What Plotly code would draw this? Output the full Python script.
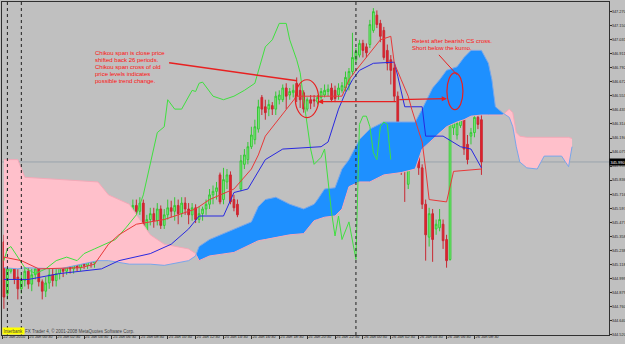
import plotly.graph_objects as go

# ---------------- data (M15 bars, bar index 0 = 25 Jan 00:00) ----------------
bar_index = list(range(-5, 133))
open_ = [345.31,344.87,345.06,345.16,345.01,344.91,344.98,345.06,344.95,345.03,345.08,344.97,344.89,344.96,345.03,344.98,345.04,345.09,345.06,345.11,345.08,345.12,345.09,345.15,345.11,345.16,345.13,
         345.18,345.28,345.35,345.43,345.37,345.46,345.35,345.40,345.49,345.42,345.54,345.62,345.57,345.64,345.40,345.50,345.55,345.49,345.59,345.45,345.54,345.60,345.57,345.62,345.55,345.64,345.59,345.54,345.60,345.50,
         345.55,345.59,345.63,345.71,345.74,345.88,345.67,345.82,345.88,345.67,345.63,345.76,345.97,346.01,346.12,346.18,346.27,346.54,346.46,346.44,346.47,346.44,346.52,346.52,346.62,346.56,346.58,346.66,346.60,346.58,
         346.44,346.52,346.52,346.50,346.54,346.56,346.59,346.62,346.60,346.56,346.60,346.62,346.65,346.76,346.86,346.90,347.00,346.97,346.99,347.11,347.24,347.17,347.11,346.94,346.86,346.79,346.55,346.03,346.08,345.80,
         345.97,346.05,346.11,345.94,345.63,345.35,345.55,345.42,345.43,345.46,345.33,345.16,346.28,346.22,346.30,346.35,346.14,346.21,346.24,346.37,346.35]
high = [345.37,345.15,345.25,345.21,345.08,345.03,345.09,345.11,345.08,345.15,345.12,344.99,345.01,345.08,345.08,345.09,345.15,345.15,345.16,345.15,345.18,345.17,345.20,345.20,345.21,345.21,345.25,
        345.33,345.40,345.50,345.49,345.52,345.50,345.45,345.54,345.55,345.60,345.67,345.67,345.69,345.67,345.54,345.60,345.60,345.64,345.62,345.59,345.67,345.66,345.69,345.67,345.69,345.69,345.64,345.64,345.63,345.61,
        345.61,345.67,345.76,345.79,345.82,345.90,345.94,345.93,345.91,345.71,345.67,346.05,346.10,346.16,346.29,346.35,346.52,346.56,346.52,346.52,346.50,346.59,346.60,346.65,346.66,346.62,346.65,346.71,346.65,346.60,
        346.54,346.56,346.56,346.56,346.62,346.65,346.65,346.66,346.64,346.66,346.67,346.76,346.79,347.09,346.96,347.03,347.03,347.00,347.20,347.30,347.28,347.20,347.14,346.99,346.90,346.84,346.59,346.14,346.18,346.03,
        346.14,346.18,346.18,345.97,345.67,345.60,345.59,345.50,345.59,345.50,345.37,346.44,346.73,346.65,346.52,346.39,346.22,346.28,346.44,346.40,346.39]
low = [344.74,344.82,345.04,344.95,344.82,344.87,344.93,344.91,344.89,344.99,344.93,344.82,344.84,344.91,344.93,344.93,344.99,345.01,345.03,345.04,345.04,345.06,345.06,345.08,345.08,345.09,345.09,
       345.15,345.25,345.29,345.32,345.33,345.30,345.28,345.37,345.37,345.38,345.50,345.52,345.54,345.35,345.37,345.45,345.43,345.45,345.42,345.42,345.50,345.52,345.49,345.46,345.52,345.54,345.46,345.49,345.47,345.47,
       345.49,345.54,345.59,345.63,345.67,345.63,345.63,345.76,345.63,345.57,345.52,345.74,345.93,345.97,346.10,346.14,346.24,346.39,346.35,346.38,346.39,346.39,346.48,346.50,346.44,346.52,346.54,346.50,346.45,346.41,
       346.42,346.44,346.46,346.48,346.50,346.54,346.55,346.50,346.50,346.52,346.58,346.59,346.60,346.73,346.83,346.88,346.88,346.88,346.96,347.09,347.13,347.01,346.86,346.77,346.65,346.50,346.00,345.88,345.65,345.76,
       345.93,346.01,345.88,345.59,345.15,345.27,345.14,345.37,345.40,345.25,345.09,345.15,346.22,346.18,346.28,346.05,345.97,346.14,346.20,346.27,345.88]
close = [344.84,345.08,345.18,344.99,344.91,344.99,345.06,344.95,345.03,345.08,344.97,344.89,344.96,345.03,344.98,345.04,345.09,345.06,345.11,345.08,345.12,345.09,345.15,345.11,345.16,345.13,345.18,
         345.28,345.35,345.43,345.37,345.46,345.35,345.40,345.49,345.42,345.54,345.62,345.57,345.64,345.40,345.50,345.55,345.49,345.59,345.45,345.54,345.60,345.57,345.62,345.55,345.64,345.59,345.54,345.60,345.50,345.55,
         345.59,345.63,345.71,345.74,345.77,345.65,345.84,345.88,345.65,345.60,345.54,346.00,346.05,346.12,346.22,346.29,346.46,346.44,346.41,346.48,346.44,346.55,346.56,346.62,346.55,346.59,346.60,346.55,346.52,346.44,
         346.52,346.49,346.51,346.54,346.59,346.60,346.61,346.52,346.53,346.62,346.64,346.71,346.76,346.88,346.93,347.00,346.94,346.92,347.16,347.27,347.16,347.06,346.88,346.83,346.77,346.55,346.01,345.96,345.97,346.00,
         346.08,346.11,345.94,345.63,345.37,345.55,345.33,345.46,345.50,345.32,345.15,346.31,346.33,346.32,346.37,346.10,346.01,346.24,346.37,346.31,345.99]

tenkan_x = [-5, 0, 5, 17, 21, 25, 28, 33, 41, 50, 54, 61, 66, 68, 70, 76, 79, 92, 94, 96, 99, 103, 106, 107, 109, 111, 112, 115, 116, 117, 122, 123, 124, 132]
tenkan_y = [345.18, 345.15, 345.08, 345.09, 345.12, 345.29, 345.37, 345.46, 345.50, 345.59, 345.67, 345.76, 345.93, 346.05, 346.21, 346.44, 346.55, 346.55, 346.69, 346.77, 346.88, 347.03, 347.06, 346.83, 346.69, 346.55, 346.44, 346.16, 345.93, 345.67, 345.65, 345.78, 345.91, 345.93]

kijun_x = [-5, 2, 11, 23, 28, 37, 43, 48, 51, 58, 61, 65, 70, 75, 86, 88, 91, 93, 95, 97, 101, 107, 108, 110, 115, 116, 121, 126, 129, 132]
kijun_y = [344.99, 344.99, 345.04, 345.08, 345.15, 345.21, 345.29, 345.42, 345.53, 345.53, 345.73, 345.76, 346.01, 346.10, 346.12, 346.16, 346.44, 346.58, 346.69, 346.77, 346.83, 346.84, 346.72, 346.46, 346.46, 346.21, 346.21, 346.12, 346.10, 345.94]

chikou_x = [-5, -4, -3, -1, 1, 4, 7, 10, 13, 16, 18, 21, 24, 27, 30, 33, 35, 37, 39, 41, 42, 44, 46, 49, 50, 51, 52, 55, 58, 61, 64, 67, 69, 70, 72, 74, 76, 77, 79, 80, 81, 82, 83, 84, 86, 87, 89, 90, 91, 92, 94, 96, 97, 98, 99, 100, 101, 102, 103, 104, 105, 106]
chikou_y = [345.15, 345.25, 345.27, 345.18, 345.09, 345.04, 345.08, 345.15, 345.18, 345.15, 345.21, 345.25, 345.29, 345.33, 345.43, 345.54, 345.71, 345.97, 346.24, 346.29, 346.52, 346.44, 346.44, 346.60, 346.59, 346.66, 346.67, 346.55, 346.52, 346.55, 346.60, 346.66, 346.86, 346.97, 347.03, 347.17, 347.17, 347.03, 346.86, 346.75, 346.52, 346.33, 346.10, 345.97, 346.03, 346.10, 345.56, 345.36, 345.53, 345.33, 345.48, 345.16, 346.31, 346.38, 346.38, 346.29, 346.07, 346.01, 346.29, 346.33, 346.31, 346.01]

cloud_x = [-5, -1, 1, 11, 22, 25, 31, 37, 41, 48, 50, 51, 54, 61, 66, 68, 70, 73, 77, 81, 84, 85, 87, 90, 92, 94, 97, 100, 104, 109, 113, 115, 118, 120, 122, 125, 127, 129, 132, 134, 135, 136, 138, 140, 141, 142, 143, 145, 148, 150, 155, 157, 158]
span_a = [345.09, 345.08, 345.09, 345.08, 345.15, 345.15, 345.12, 345.12, 345.11, 345.15, 345.19, 345.27, 345.33, 345.42, 345.48, 345.61, 345.67, 345.69, 345.63, 345.59, 345.63, 345.67, 345.76, 345.77, 345.93, 346.01, 346.18, 346.27, 346.33, 346.33, 346.33, 346.44, 346.62, 346.69, 346.77, 346.80, 346.88, 346.94, 346.94, 346.83, 346.69, 346.46, 346.41, 346.37, 346.29, 346.12, 345.99, 345.94, 345.93, 346.04, 346.04, 345.95, 346.12]
span_b = [346.01, 346.01, 345.86, 345.84, 345.82, 345.71, 345.63, 345.37, 345.29, 345.25, 345.21, 345.15, 345.19, 345.22, 345.29, 345.32, 345.33, 345.35, 345.37, 345.38, 345.49, 345.50, 345.52, 345.53, 345.59, 345.78, 345.82, 345.82, 345.88, 345.90, 345.93, 346.10, 346.18, 346.24, 346.29, 346.33, 346.35, 346.38, 346.39, 346.39, 346.39, 346.39, 346.39, 346.44, 346.41, 346.24, 346.21, 346.20, 346.20, 346.20, 346.20, 346.20, 346.19]

x_tick_labels = ["22 Jan 2010", "25 Jan 00:30", "25 Jan 02:30", "25 Jan 04:30", "25 Jan 06:30", "25 Jan 08:30",
                 "25 Jan 10:30", "25 Jan 12:30", "25 Jan 14:30", "25 Jan 16:30", "25 Jan 18:30", "25 Jan 20:30",
                 "25 Jan 22:30", "26 Jan 00:30", "26 Jan 02:30", "26 Jan 04:30", "26 Jan 06:30", "26 Jan 08:30"]
y_tick_labels = ["347.270", "347.150", "347.031", "346.911", "346.792", "346.672", "346.553", "346.433",
                 "346.314", "346.194", "346.075", "345.955", "345.836", "345.716", "345.597", "345.477",
                 "345.358", "345.238", "345.118", "344.999", "344.879", "344.760", "344.640", "344.520"]
day_separators = [-4, 0, 96]   # first bars of 24 Jan, 25 Jan, 26 Jan

note_chikou = ["Chikou span is close price", "shifted back 26 periods.", "Chikou span cross of old",
               "price levels indicates", "possible trend change."]
note_retest = ["Retest after bearish CS cross.", "Short below the kumo."]
copyright_brand = "Interbank"
copyright_text = "FX Trader 4, © 2001-2008 MetaQuotes Software Corp."

# ---------------- helpers ----------------
def label_to_bar(lbl):
    d, _, hm = lbl.split(" ")
    if ":" not in hm:
        return -5.5
    h, m = hm.split(":")
    return (int(d) - 25) * 96 + int(h) * 4 + int(m) / 15

def cloud_pieces(xs, a, b):
    pieces = []
    cx, ca, cb = [xs[0]], [a[0]], [b[0]]
    sign = a[0] >= b[0]
    for k in range(1, len(xs)):
        s = a[k] >= b[k]
        if s != sign:
            d0 = a[k - 1] - b[k - 1]
            d1 = a[k] - b[k]
            t = d0 / (d0 - d1)
            xc = xs[k - 1] + t * (xs[k] - xs[k - 1])
            yc = a[k - 1] + t * (a[k] - a[k - 1])
            cx.append(xc); ca.append(yc); cb.append(yc)
            pieces.append((cx, ca, cb, sign))
            cx, ca, cb = [xc], [yc], [yc]
            sign = s
        cx.append(xs[k]); ca.append(a[k]); cb.append(b[k])
    pieces.append((cx, ca, cb, sign))
    return pieces

FONT = "Liberation Sans"
BG = "#C0C0C0"
fig = go.Figure()

for cx, ca, cb, bull in cloud_pieces(cloud_x, span_a, span_b):
    fig.add_trace(go.Scatter(x=cx + cx[::-1], y=ca + cb[::-1], fill="toself",
                             fillcolor="#1E90FF" if bull else "#FFC0CB",
                             line=dict(width=0), mode="lines", hoverinfo="skip", showlegend=False))
fig.add_trace(go.Scatter(x=cloud_x, y=span_b, mode="lines", line=dict(color="#F4A9B8", width=1),
                         hoverinfo="skip", showlegend=False))
fig.add_trace(go.Scatter(x=cloud_x, y=span_a, mode="lines", line=dict(color="#78A6EA", width=1),
                         hoverinfo="skip", showlegend=False))

fig.add_trace(go.Candlestick(x=bar_index, open=open_, high=high, low=low, close=close,
                             increasing=dict(line=dict(color="#35C835", width=1), fillcolor="#8AF08A"),
                             decreasing=dict(line=dict(color="#C82832", width=1), fillcolor="#E8202A"),
                             whiskerwidth=0, hoverinfo="skip", showlegend=False))

fig.add_trace(go.Scatter(x=chikou_x, y=chikou_y, mode="lines", line=dict(color="#3FE03F", width=1),
                         hoverinfo="skip", showlegend=False))
fig.add_trace(go.Scatter(x=kijun_x, y=kijun_y, mode="lines", line=dict(color="#2828E0", width=1),
                         hoverinfo="skip", showlegend=False))
fig.add_trace(go.Scatter(x=tenkan_x, y=tenkan_y, mode="lines", line=dict(color="#E83838", width=1),
                         hoverinfo="skip", showlegend=False))

shapes = []
for s in day_separators:
    shapes.append(dict(type="line", xref="x", yref="paper", x0=s, x1=s, y0=0, y1=1,
                       line=dict(color="#202020", width=1, dash="dot"), layer="above"))
shapes.append(dict(type="line", xref="paper", yref="y", x0=0, x1=1, y0=close[-1], y1=close[-1],
                   line=dict(color="#9AA3AD", width=1), layer="below"))
# annotation drawings
shapes.append(dict(type="circle", xref="x", yref="y", x0=78.6, x1=85.3, y0=346.368, y1=346.690,
                   line=dict(color="#E82020", width=1.2)))
shapes.append(dict(type="circle", xref="x", yref="y", x0=122.1, x1=126.7, y0=346.435, y1=346.749,
                   line=dict(color="#E82020", width=1.2)))
shapes.append(dict(type="line", xref="x", yref="y", x0=42.4, y0=346.834, x1=79.1, y1=346.681,
                   line=dict(color="#E82020", width=1.5)))
shapes.append(dict(type="line", xref="x", yref="y", x0=119.8, y0=346.902, x1=125.0, y1=346.732,
                   line=dict(color="#E82020", width=1)))

annotations = []
for k, t in enumerate(note_chikou):
    annotations.append(dict(x=20.6, y=346.922, xref="x", yref="y", text=t, showarrow=False,
                            xanchor="left", yanchor="middle", yshift=-7 * k,
                            font=dict(family=FONT, size=6, color="#FF1010")))
for k, t in enumerate(note_retest):
    annotations.append(dict(x=111.5, y=347.024, xref="x", yref="y", text=t, showarrow=False,
                            xanchor="left", yanchor="middle", yshift=-7 * k,
                            font=dict(family=FONT, size=6, color="#FF1010")))
annotations.append(dict(x=85.1, y=346.503, ax=108.0, ay=346.503, xref="x", yref="y", axref="x", ayref="y",
                        text="", showarrow=True, arrowhead=2, arrowsize=0.8, arrowwidth=1.3, arrowcolor="#E82020"))
annotations.append(dict(x=122.1, y=346.529, ax=108.0, ay=346.521, xref="x", yref="y", axref="x", ayref="y",
                        text="", showarrow=True, arrowhead=2, arrowsize=0.8, arrowwidth=1.3, arrowcolor="#E82020"))
annotations.append(dict(x=0.0, y=0.012, xref="paper", yref="paper", text=copyright_brand, showarrow=False,
                        xanchor="left", yanchor="middle", bgcolor="#FFFF00", borderpad=0.5,
                        font=dict(family=FONT, size=4.5, color="#404040")))
annotations.append(dict(x=0.037, y=0.012, xref="paper", yref="paper", text=copyright_text, showarrow=False,
                        xanchor="left", yanchor="middle", borderpad=0,
                        font=dict(family=FONT, size=4.5, color="#404040")))
annotations.append(dict(x=1.0, y=close[-1], xref="paper", yref="y", text=f"{close[-1]:.3f}", showarrow=False,
                        xanchor="left", yanchor="middle", bgcolor="#000000", borderpad=0.5, xshift=0,
                        font=dict(family=FONT, size=3.9, color="#FFFFFF")))

fig.update_layout(
    template="none",
    width=625, height=344,
    margin=dict(l=2, r=16, t=2, b=9),
    paper_bgcolor=BG, plot_bgcolor=BG,
    showlegend=False,
    shapes=shapes, annotations=annotations,
    xaxis=dict(range=[-5.545, 168.6], showgrid=False, zeroline=False, showline=True, mirror=True,
               linecolor="#303030", linewidth=1, ticks="outside", ticklen=3, tickcolor="#303030",
               tickvals=[label_to_bar(l) for l in x_tick_labels], ticktext=x_tick_labels,
               ticklabelposition="outside right", ticklabelstandoff=-3, tickangle=0, automargin=False,
               tickfont=dict(family=FONT, size=4, color="#202020"), rangeslider=dict(visible=False)),
    yaxis=dict(range=[344.517, 347.352], side="right", showgrid=False, zeroline=False, showline=True,
               mirror=True, linecolor="#303030", linewidth=1, ticks="outside", ticklen=2, tickcolor="#303030",
               tickvals=[float(v) for v in y_tick_labels], ticktext=y_tick_labels, automargin=False,
               ticklabelstandoff=-1,
               tickfont=dict(family=FONT, size=3.9, color="#202020")),
)

fig.write_html("out.html")
